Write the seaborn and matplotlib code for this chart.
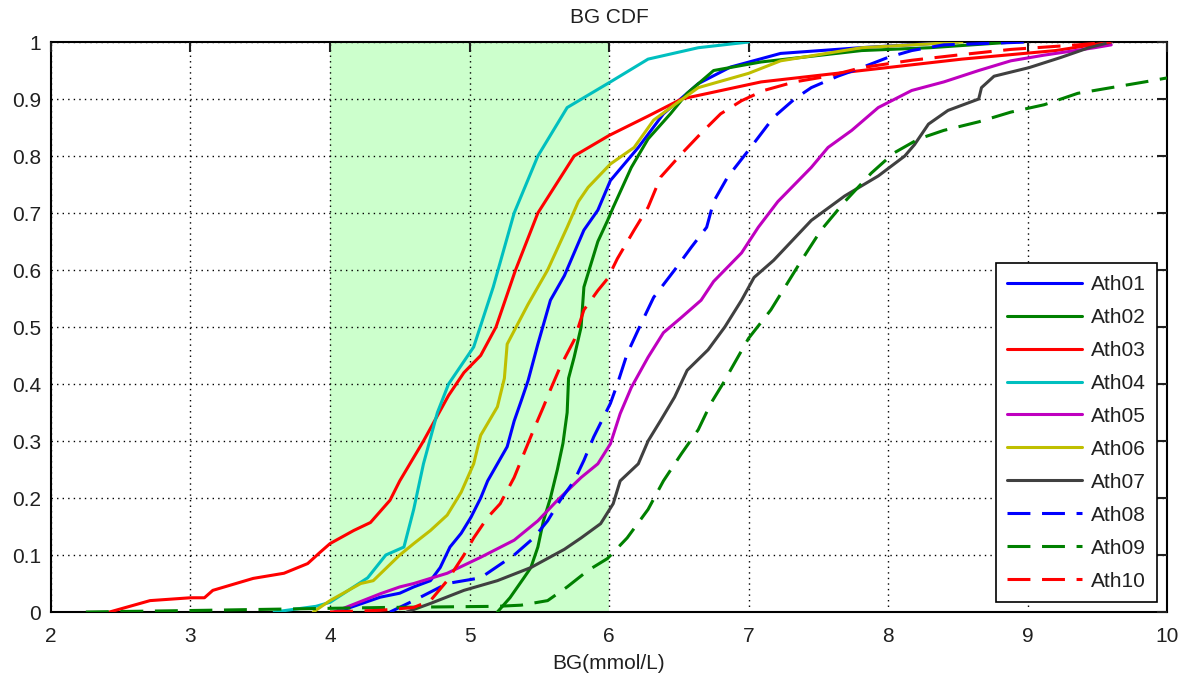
import matplotlib
matplotlib.use("Agg")
import matplotlib.pyplot as plt
import seaborn as sns
import pandas as pd

# CDF curves (BG in mmol/L, cumulative fraction)
ath01_bg = [4.05, 4.36, 4.5, 4.6, 4.72, 4.79, 4.86, 4.94, 5.01, 5.08, 5.13, 5.2, 5.27, 5.32, 5.37, 5.42,
            5.49, 5.58, 5.68, 5.75, 5.82, 5.92, 6.01, 6.21, 6.39, 6.64, 6.87, 7.23, 7.8, 8.5]
ath01_cdf = [0, 0.026, 0.033, 0.044, 0.055, 0.078, 0.114, 0.138, 0.166, 0.2, 0.23, 0.26, 0.29, 0.335, 0.37, 0.406,
             0.47, 0.547, 0.59, 0.63, 0.67, 0.705, 0.757, 0.815, 0.874, 0.927, 0.956, 0.98, 0.99, 1.0]

ath02_bg = [5.2, 5.29, 5.39, 5.44, 5.49, 5.53, 5.58, 5.63, 5.67, 5.7, 5.71, 5.75, 5.8, 5.82, 5.87, 5.92, 5.99,
            6.03, 6.16, 6.28, 6.44, 6.56, 6.75, 7.09, 7.81, 8.3, 8.9]
ath02_cdf = [0, 0.025, 0.06, 0.078, 0.114, 0.16, 0.2, 0.25, 0.296, 0.35, 0.41, 0.447, 0.5, 0.57, 0.61, 0.65, 0.687,
             0.71, 0.78, 0.83, 0.874, 0.91, 0.95, 0.965, 0.985, 0.99, 1.0]

ath03_bg = [2.42, 2.71, 3.0, 3.1, 3.16, 3.45, 3.67, 3.84, 3.93, 4.0, 4.17, 4.29, 4.43, 4.5, 4.67, 4.85, 4.96,
            5.08, 5.19, 5.33, 5.49, 5.75, 6.0, 6.28, 6.52, 7.09, 7.81, 8.53, 9.2, 9.6]
ath03_cdf = [0, 0.02, 0.025, 0.025, 0.038, 0.059, 0.068, 0.085, 0.105, 0.12, 0.143, 0.157, 0.196, 0.23, 0.3, 0.38,
             0.42, 0.45, 0.5, 0.6, 0.7, 0.8, 0.836, 0.87, 0.9, 0.93, 0.95, 0.97, 0.985, 1.0]

ath04_bg = [3.6, 3.9, 4.0, 4.27, 4.4, 4.53, 4.6, 4.67, 4.77, 4.85, 5.03, 5.17, 5.32, 5.49, 5.7, 6.01, 6.28,
            6.64, 7.0]
ath04_cdf = [0, 0.01, 0.017, 0.06, 0.1, 0.114, 0.18, 0.26, 0.35, 0.4, 0.465, 0.57, 0.7, 0.8, 0.885, 0.93, 0.97,
             0.99, 1.0]

ath05_bg = [4.03, 4.36, 4.5, 4.6, 4.84, 5.08, 5.32, 5.49, 5.63, 5.8, 5.92, 6.01, 6.08, 6.16, 6.28, 6.39, 6.52,
            6.66, 6.75, 6.95, 7.07, 7.21, 7.45, 7.57, 7.74, 7.93, 8.17, 8.4, 8.65, 8.88, 9.12, 9.48, 9.6]
ath05_cdf = [0, 0.032, 0.044, 0.05, 0.068, 0.096, 0.126, 0.16, 0.196, 0.236, 0.26, 0.295, 0.348, 0.394, 0.447,
             0.49, 0.517, 0.547, 0.58, 0.63, 0.675, 0.72, 0.78, 0.815, 0.845, 0.885, 0.915, 0.93, 0.95, 0.967,
             0.977, 0.99, 0.995]

ath06_bg = [3.88, 4.0, 4.22, 4.31, 4.5, 4.6, 4.72, 4.84, 4.94, 5.03, 5.08, 5.2, 5.25, 5.27, 5.42, 5.56, 5.7,
            5.78, 5.85, 6.01, 6.18, 6.32, 6.47, 6.64, 7.0, 7.23, 7.81, 8.53]
ath06_cdf = [0, 0.02, 0.05, 0.055, 0.1, 0.12, 0.143, 0.17, 0.21, 0.26, 0.31, 0.36, 0.41, 0.47, 0.54, 0.6, 0.675,
             0.72, 0.745, 0.786, 0.815, 0.863, 0.89, 0.92, 0.945, 0.967, 0.99, 1.0]

ath07_bg = [4.55, 4.72, 4.96, 5.2, 5.44, 5.68, 5.8, 5.94, 6.03, 6.08, 6.21, 6.28, 6.37, 6.47, 6.56, 6.71, 6.83,
            6.95, 7.04, 7.18, 7.45, 7.69, 7.93, 8.12, 8.19, 8.29, 8.43, 8.65, 8.67, 8.76, 9.01, 9.24, 9.44, 9.6]
ath07_cdf = [0, 0.015, 0.038, 0.055, 0.078, 0.11, 0.13, 0.155, 0.19, 0.23, 0.26, 0.3, 0.336, 0.377, 0.424, 0.46,
             0.5, 0.547, 0.587, 0.617, 0.687, 0.73, 0.765, 0.8, 0.82, 0.856, 0.88, 0.9, 0.92, 0.94, 0.955, 0.973,
             0.99, 1.0]

ath08_bg = [4.43, 4.6, 4.84, 5.08, 5.32, 5.46, 5.56, 5.65, 5.75, 5.82, 5.89, 6.01, 6.06, 6.13, 6.23, 6.32, 6.47,
            6.59, 6.7, 6.75, 6.85, 7.0, 7.18, 7.33, 7.45, 7.64, 7.81, 8.0, 8.17, 8.4, 9.0]
ath08_cdf = [0, 0.02, 0.05, 0.06, 0.1, 0.13, 0.16, 0.196, 0.23, 0.266, 0.307, 0.366, 0.4, 0.453, 0.506, 0.552,
             0.6, 0.64, 0.675, 0.72, 0.763, 0.81, 0.868, 0.9, 0.92, 0.94, 0.955, 0.973, 0.985, 0.995, 1.0]

ath09_bg = [2.25, 3.1, 4.4, 5.2, 5.37, 5.56, 5.7, 5.85, 5.99, 6.13, 6.28, 6.39, 6.52, 6.64, 6.73, 6.83, 6.87,
            7.0, 7.16, 7.38, 7.52, 7.69, 7.88, 8.04, 8.22, 8.4, 8.65, 8.88, 9.12, 9.36, 9.6, 9.84, 10.0]
ath09_cdf = [0, 0.003, 0.008, 0.01, 0.012, 0.02, 0.044, 0.073, 0.094, 0.13, 0.18, 0.23, 0.278, 0.32, 0.366,
             0.406, 0.424, 0.48, 0.53, 0.617, 0.67, 0.72, 0.77, 0.805, 0.83, 0.845, 0.86, 0.877, 0.89, 0.91,
             0.92, 0.93, 0.937]

ath10_bg = [4.0, 4.36, 4.6, 4.72, 4.84, 4.96, 5.03, 5.13, 5.22, 5.32, 5.39, 5.46, 5.53, 5.58, 5.65, 5.75, 5.82,
            5.92, 5.99, 6.06, 6.18, 6.28, 6.37, 6.52, 6.66, 6.8, 6.95, 7.11, 7.33, 7.57, 7.81, 8.17, 8.53, 8.88,
            9.36, 9.6]
ath10_cdf = [0, 0.003, 0.008, 0.02, 0.055, 0.1, 0.13, 0.166, 0.19, 0.236, 0.278, 0.32, 0.36, 0.39, 0.43, 0.477,
             0.53, 0.564, 0.585, 0.62, 0.67, 0.71, 0.763, 0.804, 0.84, 0.874, 0.897, 0.915, 0.93, 0.94, 0.955,
             0.968, 0.978, 0.987, 0.995, 1.0]

athletes = ['Ath01', 'Ath02', 'Ath03', 'Ath04', 'Ath05', 'Ath06', 'Ath07', 'Ath08', 'Ath09', 'Ath10']
bg_values = [ath01_bg, ath02_bg, ath03_bg, ath04_bg, ath05_bg, ath06_bg, ath07_bg, ath08_bg, ath09_bg, ath10_bg]
cdf_values = [ath01_cdf, ath02_cdf, ath03_cdf, ath04_cdf, ath05_cdf, ath06_cdf, ath07_cdf, ath08_cdf, ath09_cdf,
              ath10_cdf]

x_ticks = [2, 3, 4, 5, 6, 7, 8, 9, 10]
y_ticks = [0, 0.1, 0.2, 0.3, 0.4, 0.5, 0.6, 0.7, 0.8, 0.9, 1]
y_tick_labels = ['0', '0.1', '0.2', '0.3', '0.4', '0.5', '0.6', '0.7', '0.8', '0.9', '1']
target_range = (4, 6)

# MATLAB-like line colours / styles
colors = {'Ath01': (0, 0, 1), 'Ath02': (0, 0.5, 0), 'Ath03': (1, 0, 0), 'Ath04': (0, 0.75, 0.75),
          'Ath05': (0.75, 0, 0.75), 'Ath06': (0.75, 0.75, 0), 'Ath07': (0.25, 0.25, 0.25),
          'Ath08': (0, 0, 1), 'Ath09': (0, 0.5, 0), 'Ath10': (1, 0, 0)}
dashed = {'Ath08', 'Ath09', 'Ath10'}

sns.set_theme(style='white')
plt.rcParams['font.family'] = ['Liberation Sans', 'DejaVu Sans']
plt.rcParams['text.color'] = '#202020'
plt.rcParams['axes.labelcolor'] = '#202020'
plt.rcParams['xtick.color'] = '#202020'
plt.rcParams['ytick.color'] = '#202020'

fig = plt.figure(figsize=(11.83, 6.81), dpi=100)
ax = fig.add_axes([0.0431, 0.1013, 0.9434, 0.837])

ax.axvspan(*target_range, color='#ccffcc', zorder=0, lw=0)

for name, bg, cdf in zip(athletes, bg_values, cdf_values):
    df = pd.DataFrame({'BG': bg, 'CDF': cdf})
    ls = (0, (7.5, 3.8)) if name in dashed else '-'
    sns.lineplot(data=df, x='BG', y='CDF', ax=ax, color=colors[name], linestyle=ls,
                 linewidth=2.2, label=name, sort=False, estimator=None, zorder=3)

ax.set_xlim(2, 10)
ax.set_ylim(0, 1)
ax.set_xticks(x_ticks)
ax.set_xticklabels([str(t) for t in x_ticks])
ax.set_yticks(y_ticks)
ax.set_yticklabels(y_tick_labels)
ax.grid(True, linestyle=(0, (1, 3)), color='black', linewidth=1.0, zorder=1)
ax.set_axisbelow(False)

ax.tick_params(direction='in', top=True, right=True, length=7, width=1.5, labelsize=15,
               colors='#202020')
ax.tick_params(axis='x', pad=11)
ax.tick_params(axis='y', pad=7)
for s in ax.spines.values():
    s.set_color('black')
    s.set_linewidth(1.5)

ax.set_title('BG CDF', fontsize=15, pad=13.5)
ax.set_xlabel('BG(mmol/L)', fontsize=15, labelpad=5.5)
ax.set_ylabel('')

leg = ax.legend(loc='lower right', bbox_to_anchor=(0.991, 0.0175), borderaxespad=0, fontsize=15,
                frameon=True, fancybox=False, edgecolor='black', framealpha=1, handlelength=3.6,
                handletextpad=0.4, labelspacing=0.67, borderpad=0.55)
leg.get_frame().set_linewidth(1.2)

fig.savefig('out.png', dpi=100)
plt.close(fig)
